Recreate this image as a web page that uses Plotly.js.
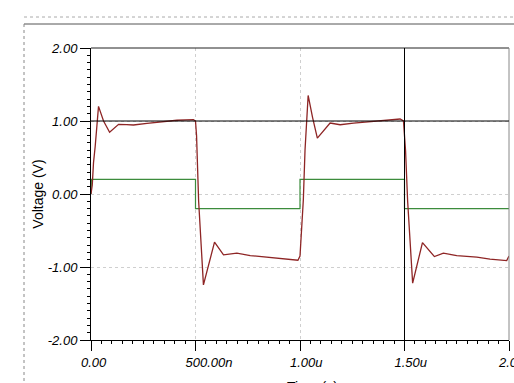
<!DOCTYPE html>
<html>
<head>
<meta charset="utf-8">
<script src="https://cdn.plot.ly/plotly-3.0.1.min.js"></script>
<style>html,body{margin:0;padding:0;background:#fff;}#chart{width:514px;height:383px;overflow:hidden;}</style>
</head>
<body>
<div id="chart"></div>
<script>
// Time in ns
var outTime = [0, 6, 12, 20, 36, 60, 89, 132, 170, 203, 268, 346, 411, 490, 500, 505, 515, 538, 591, 634, 698, 762, 857, 937, 990, 1000, 1008, 1016, 1024, 1031, 1039, 1060, 1083, 1144, 1192, 1256, 1320, 1415, 1479, 1495, 1505, 1515, 1539, 1586, 1643, 1686, 1750, 1846, 1909, 1989, 2000];
var outVolt = [0, 0.12, 0.43, 0.65, 1.2, 1.0, 0.845, 0.955, 0.95, 0.945, 0.968, 0.99, 1.01, 1.02, 1.0, 0.8, -0.1, -1.245, -0.66, -0.834, -0.81, -0.843, -0.866, -0.893, -0.907, -0.85, -0.5, -0.08, 0.6, 1.0, 1.35, 1.05, 0.766, 0.972, 0.949, 0.972, 0.99, 1.01, 1.027, 1.0, 0.6, -0.1, -1.222, -0.665, -0.857, -0.811, -0.843, -0.866, -0.893, -0.912, -0.85];
var inTime = [0, 2, 500, 500, 1000, 1000, 1500, 1500, 2000];
var inVolt = [0, 0.2, 0.2, -0.2, -0.2, 0.2, 0.2, -0.2, -0.2];
var xTickVals = [0, 500, 1000, 1500, 2000];
var xTickText = ["0.00", "500.00n", "1.00u", "1.50u", "2.00u"];
var yTickVals = [-2, -1, 0, 1, 2];
var yTickText = ["-2.00", "-1.00", "0.00", "1.00", "2.00"];
var xTitle = "Time (s)";
var yTitle = "Voltage (V)";

var fontFam = "Arial, 'Liberation Sans', sans-serif";
var traces = [
  {x: inTime, y: inVolt, type: 'scatter', mode: 'lines', line: {color: '#3c8c3c', width: 1.2}, hoverinfo: 'skip'},
  {x: outTime, y: outVolt, type: 'scatter', mode: 'lines', line: {color: '#8e2525', width: 1.3}, hoverinfo: 'skip'}
];
function px2x(p){ return (p - 91) / 418; }
function px2y(p){ return (340 - p) / 292; }
var layout = {
  width: 514, height: 383,
  margin: {l: 91, r: 5, t: 48, b: 43, pad: 0},
  paper_bgcolor: '#fff', plot_bgcolor: '#fff',
  showlegend: false,
  font: {family: fontFam, color: '#000'},
  xaxis: {
    range: [0, 2000], tickvals: xTickVals, ticktext: xTickText,
    ticks: 'outside', ticklen: 10, tickcolor: '#000', tickwidth: 1,
    ticklabelposition: 'outside right', ticklabelshift: -11, ticklabelstandoff: 10, ticklabeloverflow: 'allow',
    tickfont: {family: fontFam, size: 13, style: 'italic', color: '#000'},
    showline: true, linecolor: '#000', linewidth: 1, mirror: false,
    showgrid: true, gridcolor: '#cfcfcf', griddash: 'dot', gridwidth: 1,
    zeroline: false, automargin: false,
    minor: {dtick: 50, ticks: 'outside', ticklen: 3, tickcolor: '#000', showgrid: false}
  },
  yaxis: {
    range: [-2, 2], tickvals: yTickVals, ticktext: yTickText,
    ticks: 'outside', ticklen: 10, tickcolor: '#000', tickwidth: 1,
    tickfont: {family: fontFam, size: 13, style: 'italic', color: '#000'},
    showline: true, linecolor: '#000', linewidth: 1, mirror: false,
    showgrid: true, gridcolor: '#cfcfcf', griddash: 'dot', gridwidth: 1,
    zeroline: false, automargin: false,
    minor: {dtick: 0.1, ticks: 'outside', ticklen: 3, tickcolor: '#000', showgrid: false},
    title: {text: yTitle, font: {family: fontFam, size: 14, color: '#000'}, standoff: 0}
  },
  annotations: [
    {text: xTitle, xref: 'paper', yref: 'paper', x: px2x(312), y: px2y(387), xanchor: 'center', yanchor: 'middle',
     showarrow: false, font: {family: fontFam, size: 14, color: '#000'}}
  ],
  shapes: [
    {type: 'line', xref: 'paper', yref: 'paper', x0: 0, x1: 1, y0: 1, y1: 1, line: {color: '#222', width: 1}},
    {type: 'line', xref: 'paper', yref: 'paper', x0: 1, x1: 1, y0: 0, y1: 1, line: {color: '#888', width: 1}},
    {type: 'line', xref: 'paper', yref: 'y', x0: 0, x1: 1, y0: 1, y1: 1, line: {color: '#000', width: 1}},
    {type: 'line', xref: 'x', yref: 'paper', x0: 1500, x1: 1500, y0: 0, y1: 1, line: {color: '#000', width: 1}},
    {type: 'line', xref: 'paper', yref: 'paper', x0: px2x(24), x1: px2x(520), y0: px2y(24), y1: px2y(24), line: {color: '#555', width: 1}},
    {type: 'line', xref: 'paper', yref: 'paper', x0: px2x(24), x1: px2x(24), y0: px2y(24), y1: px2y(390), line: {color: '#888', width: 1, dash: 'dot'}},
    {type: 'line', xref: 'paper', yref: 'paper', x0: px2x(24), x1: px2x(520), y0: px2y(17), y1: px2y(17), line: {color: '#aaa', width: 1, dash: 'dot'}}
  ]
};
Plotly.newPlot('chart', traces, layout, {staticPlot: true, displayModeBar: false});
</script>
</body>
</html>
